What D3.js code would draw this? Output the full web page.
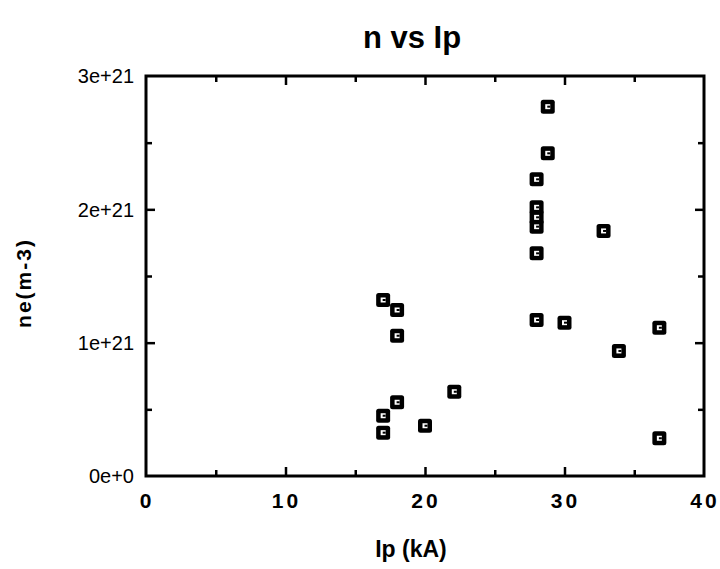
<!DOCTYPE html>
<html>
<head>
<meta charset="utf-8">
<script src="https://cdn.jsdelivr.net/npm/d3@7"></script>
<style>
    body { margin: 0; background: #fff; }
    text { font-family: "Liberation Sans", Arial, sans-serif; fill: #000; }
</style>
</head>
<body>
<div id="chart"></div>
<script>
// Ip (kA) and ne (units of 1e21 m-3)
let ip = [17, 18, 18, 17, 18, 17, 20, 22.1, 28, 28, 28, 28, 28, 28, 28.8, 28.8, 30, 32.8, 33.9, 36.8, 36.8];
let ne = [1.32, 1.245, 1.052, 0.452, 0.553, 0.325, 0.377, 0.632, 1.17, 1.67, 1.87, 1.94, 2.015, 2.225, 2.42, 2.77, 1.15, 1.838, 0.938, 1.112, 0.283];
let xTicks = [0, 10, 20, 30, 40];
let yTicks = [0, 1, 2, 3];
let yTickLabels = ["0e+0", "1e+21", "2e+21", "3e+21"];

let width = 720;
let height = 569;
let margins = {
    top: 76,
    right: 16,
    bot: 93,
    left: 146
};
let chartWidth = width - margins.left - margins.right;
let chartHeight = height - margins.top - margins.bot;

let svg = d3.select("#chart")
    .append("svg")
    .attr("width", width)
    .attr("height", height);

let g = svg.append("g")
    .attr("transform", "translate(" + margins.left + "," + margins.top + ")");

let xScale = d3.scaleLinear().domain([0, 40]).range([0, chartWidth]);
let yScale = d3.scaleLinear().domain([0, 3]).range([chartHeight, 0]);

// ticks on all four sides, pointing inward
let minorX = d3.range(5, 40, 10);
let minorY = d3.range(0.5, 3, 1);
function tickSet(axis, vals, len) {
    return axis.tickValues(vals).tickSize(len).tickFormat("");
}
g.append("g").attr("class", "ax")
    .attr("transform", "translate(0," + chartHeight + ")")
    .call(tickSet(d3.axisTop(xScale), xTicks.slice(1, -1), 9));
g.append("g").attr("class", "ax")
    .attr("transform", "translate(0," + chartHeight + ")")
    .call(tickSet(d3.axisTop(xScale), minorX, 6));
g.append("g").attr("class", "ax")
    .call(tickSet(d3.axisBottom(xScale), xTicks.slice(1, -1), 9));
g.append("g").attr("class", "ax")
    .call(tickSet(d3.axisBottom(xScale), minorX, 6));
g.append("g").attr("class", "ax")
    .call(tickSet(d3.axisRight(yScale), yTicks.slice(1, -1), 9));
g.append("g").attr("class", "ax")
    .call(tickSet(d3.axisRight(yScale), minorY, 6));
g.append("g").attr("class", "ax")
    .attr("transform", "translate(" + chartWidth + ",0)")
    .call(tickSet(d3.axisLeft(yScale), yTicks.slice(1, -1), 9));
g.append("g").attr("class", "ax")
    .attr("transform", "translate(" + chartWidth + ",0)")
    .call(tickSet(d3.axisLeft(yScale), minorY, 6));
g.selectAll(".ax .domain").remove();
g.selectAll(".ax line").attr("stroke", "#000").attr("stroke-width", 2.5);

// frame
g.append("rect")
    .attr("width", chartWidth)
    .attr("height", chartHeight)
    .attr("fill", "none")
    .attr("stroke", "#000")
    .attr("stroke-width", 3);

// tick labels
g.selectAll(".xlab")
    .data(xTicks)
    .enter().append("text")
    .attr("x", d => xScale(d) + 1)
    .attr("y", chartHeight + 32)
    .attr("text-anchor", "middle")
    .style("font-size", "21px")
    .style("font-weight", "bold")
    .style("letter-spacing", "3px")
    .text(d => d);

g.selectAll(".ylab")
    .data(yTicks)
    .enter().append("text")
    .attr("x", -12)
    .attr("y", d => yScale(d))
    .attr("dy", "0.36em")
    .attr("text-anchor", "end")
    .style("font-size", "20px")
    .text((d, i) => yTickLabels[i]);

// points
let pts = g.selectAll(".pt")
    .data(ip.map((d, i) => [d, ne[i]]))
    .enter().append("g")
    .attr("transform", d => "translate(" + xScale(d[0]) + "," + yScale(d[1]) + ")");
pts.append("rect")
    .attr("x", -7).attr("y", -7)
    .attr("width", 14).attr("height", 14)
    .attr("rx", 2.5)
    .attr("fill", "#000");
pts.append("rect")
    .attr("x", -2.5).attr("y", -2.5)
    .attr("width", 5).attr("height", 5)
    .attr("fill", "#fff");
pts.append("rect")
    .attr("x", -0.5).attr("y", -1)
    .attr("width", 3).attr("height", 2)
    .attr("fill", "#000");

// titles
svg.append("text")
    .attr("x", 412)
    .attr("y", 48)
    .attr("text-anchor", "middle")
    .style("font-family", "'Liberation Sans Narrow', 'Liberation Sans', sans-serif")
    .style("font-size", "31px")
    .style("font-weight", "bold")
    .text("n vs Ip");

svg.append("text")
    .attr("x", 411)
    .attr("y", 557)
    .attr("text-anchor", "middle")
    .style("font-family", "'Liberation Sans Narrow', 'Liberation Sans', sans-serif")
    .style("font-size", "23px")
    .style("font-weight", "bold")
    .text("Ip (kA)");

svg.append("text")
    .attr("transform", "translate(31,283) rotate(-90)")
    .attr("text-anchor", "middle")
    .style("font-size", "21px")
    .style("font-weight", "bold")
    .style("letter-spacing", "2px")
    .text("ne(m-3)");
</script>
</body>
</html>
